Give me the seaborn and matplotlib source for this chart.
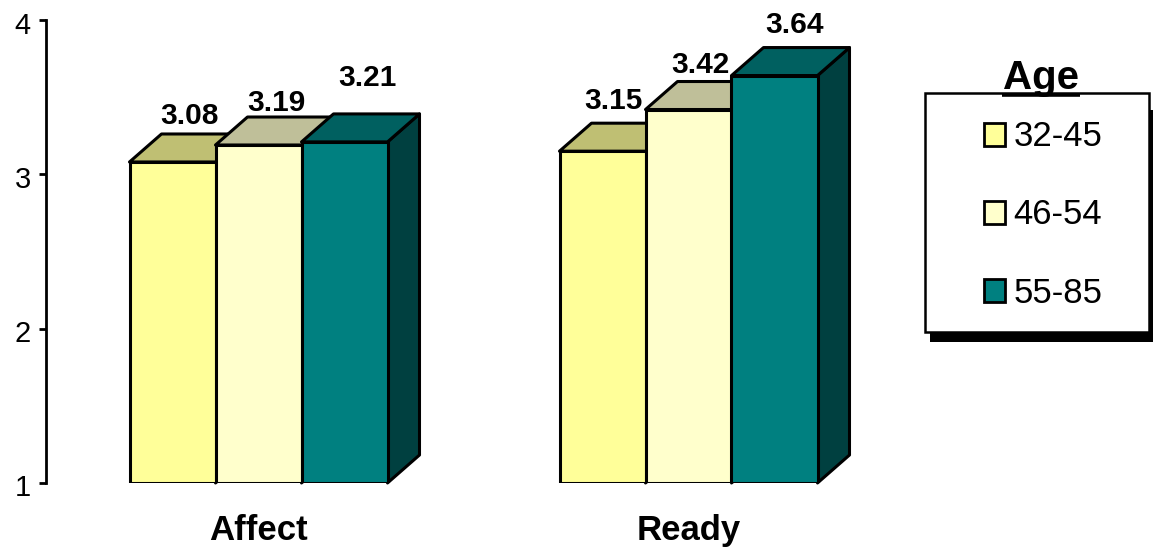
import matplotlib
matplotlib.use("Agg")
import matplotlib.pyplot as plt
from matplotlib.lines import Line2D
from matplotlib.patches import Patch, Polygon, Rectangle
from matplotlib.transforms import Affine2D
import pandas as pd
import seaborn as sns

# Survey scores by age group
categories = ["Affect", "Ready"]
age_groups = ["32-45", "46-54", "55-85"]
scores_32_45 = [3.08, 3.15]
scores_46_54 = [3.19, 3.42]
scores_55_85 = [3.21, 3.64]
y_ticks = [1, 2, 3, 4]

# Styling
front_colors = ["#FFFF99", "#FFFFCC", "#008080"]
top_colors = ["#BFBF73", "#BFBF99", "#006060"]
side_colors = ["#808050", "#808066", "#004040"]
edge_lw = 2.2
depth_px = (32, 28)
W, H = 1153, 549

# Pixel nudges of each value label from the front corner of its bar: (x, y)
label_nudges = [[(17, 38), (11, 42)], [(18, 34), (12, 37)], [(23, 56), (20, 43)]]

sns.set_theme(style="white")
plt.rcParams["font.family"] = ["Liberation Sans", "DejaVu Sans"]


def fx(px):
    return px / W


def fy(px):
    return 1 - px / H


rows = []
for age, values in zip(age_groups, [scores_32_45, scores_46_54, scores_55_85]):
    for cat, val in zip(categories, values):
        rows.append({"category": cat, "age": age, "score": val})
df = pd.DataFrame(rows)

fig = plt.figure(figsize=(W / 100, H / 100), dpi=100, facecolor="white")
ax = fig.add_axes([fx(46), fy(483), fx(880 - 46), (483 - 20) / H])
ax.patch.set_alpha(0)

sns.barplot(
    data=df, x="category", y="score", hue="age", hue_order=age_groups,
    order=categories, palette=front_colors, width=0.6, gap=0, saturation=1,
    edgecolor="black", linewidth=edge_lw, errorbar=None, legend=False, ax=ax,
)

ax.set_xlim((46 - 258.5) / 430, (880 - 258.5) / 430)
ax.set_ylim(1, 4)
ax.set_yticks(y_ticks)
ax.set_xlabel("")
ax.set_ylabel("")

for name in ("top", "right", "bottom"):
    ax.spines[name].set_visible(False)
ax.spines["left"].set_linewidth(2.0)
ax.spines["left"].set_color("black")
ax.tick_params(axis="y", left=True, length=5, width=2.0, color="black",
               labelsize=21, labelcolor="black", pad=6)
ax.tick_params(axis="x", bottom=False, labelsize=25, labelcolor="black", pad=16.5)
for lbl in ax.get_xticklabels():
    lbl.set_fontweight("bold")
# Numbers sit just below their tick marks
for lbl in ax.get_yticklabels():
    lbl.set_transform(lbl.get_transform() + Affine2D().translate(0, -2.5))

# Data units per pixel, used for the extruded faces
x_unit = 1 / 430
y_unit = 3 / 463
dx, dy = depth_px[0] * x_unit, depth_px[1] * y_unit

for j, container in enumerate(ax.containers):
    for i, bar in enumerate(container):
        value = bar.get_height()
        # Bars rise from the axis floor at 1
        bar.set_y(1)
        bar.set_height(value - 1)
        bar.set_zorder(3 + 2 * j)
        x0, x1 = bar.get_x(), bar.get_x() + bar.get_width()
        top_face = Polygon(
            [(x0, value), (x0 + dx, value + dy), (x1 + dx, value + dy), (x1, value)],
            closed=True, facecolor=top_colors[j], edgecolor="black",
            linewidth=edge_lw, joinstyle="round", zorder=2 + 2 * j, clip_on=False,
        )
        side_face = Polygon(
            [(x1, 1), (x1 + dx, 1 + dy), (x1 + dx, value + dy), (x1, value)],
            closed=True, facecolor=side_colors[j], edgecolor="black",
            linewidth=edge_lw, joinstyle="round", zorder=2 + 2 * j, clip_on=False,
        )
        ax.add_patch(side_face)
        ax.add_patch(top_face)
        nudge = label_nudges[j][i]
        ax.annotate(
            f"{value:.2f}", xy=((x0 + x1) / 2, value), xytext=nudge,
            textcoords="offset pixels", ha="center", va="baseline",
            fontsize=21.5, fontweight="bold", color="black", zorder=20,
        )

# Legend frame with its drop shadow
fig.add_artist(Rectangle((fx(930), fy(342)), (1153 - 930) / W, (342 - 110) / H,
                         transform=fig.transFigure, facecolor="black",
                         edgecolor="none", zorder=1))
fig.add_artist(Rectangle((fx(925), fy(332)), (1149 - 925) / W, (332 - 93) / H,
                         transform=fig.transFigure, facecolor="white",
                         edgecolor="black", linewidth=1.8, zorder=2))

handles = [Patch(facecolor=c, edgecolor="black", linewidth=2.0) for c in front_colors]
fig.legend(
    handles, age_groups, loc="upper left", bbox_to_anchor=(fx(967), fy(103)),
    frameon=False, fontsize=25, handlelength=0.58, handleheight=0.63,
    handletextpad=0.26, labelspacing=1.3, borderpad=0.5, borderaxespad=0,
    labelcolor="black",
)

# Underlined legend heading
fig.text(fx(1041), fy(89), "Age", ha="center", va="baseline", fontsize=29,
         fontweight="bold", color="black", zorder=7)
fig.add_artist(Line2D([fx(1002), fx(1080)], [fy(95), fy(95)],
                      transform=fig.transFigure, color="black", linewidth=2.6,
                      solid_capstyle="butt", zorder=6))

fig.savefig("out.png", dpi=100, facecolor="white")
